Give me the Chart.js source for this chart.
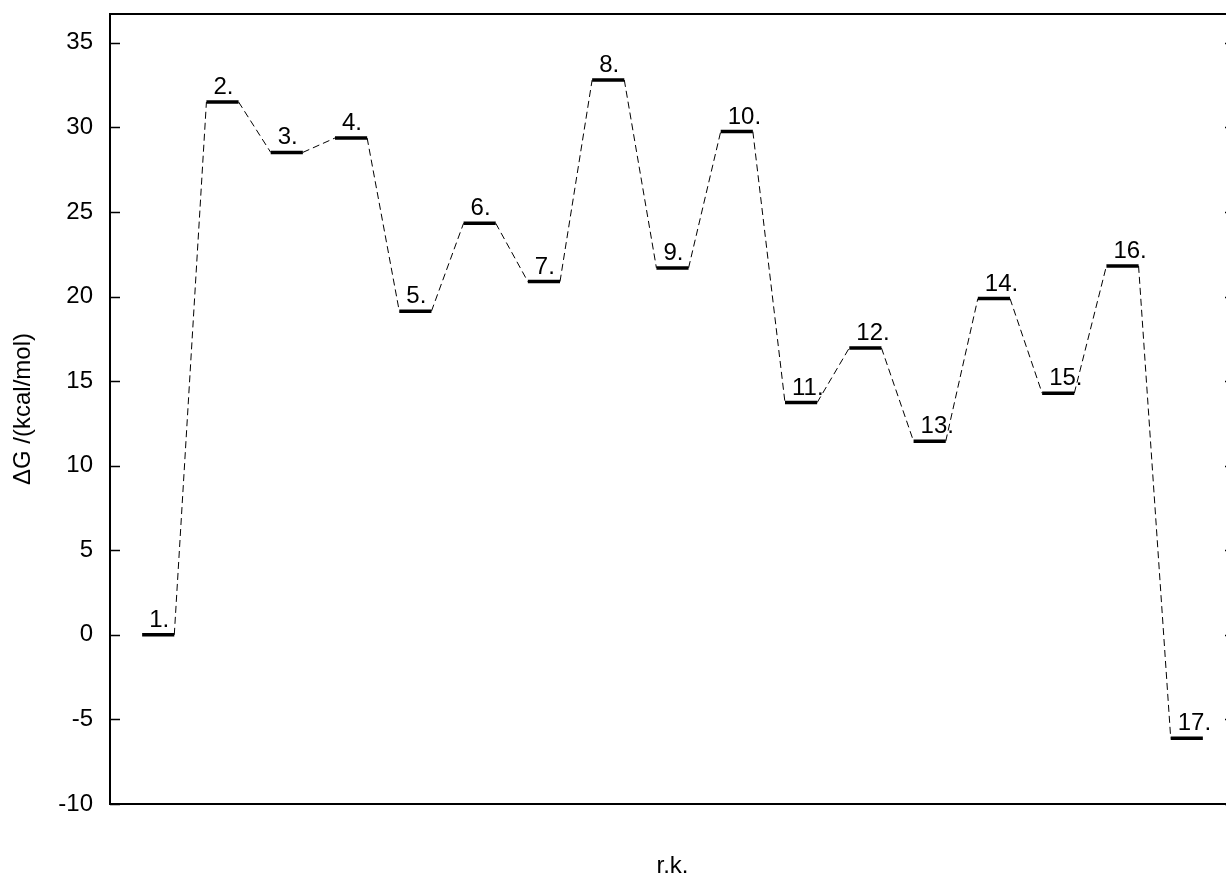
<!DOCTYPE html>
<html><head><meta charset="utf-8">
<script src="https://cdn.jsdelivr.net/npm/chart.js@4/dist/chart.umd.min.js"></script>
<style>html,body{margin:0;padding:0;background:#fff;overflow:hidden;width:1226px;height:878px}#wrap{width:1240px;height:878px}</style>
</head><body><div id="wrap"><canvas id="c" width="1240" height="878"></canvas></div>
<script>
const stateLabels = ['1.','2.','3.','4.','5.','6.','7.','8.','9.','10.','11.','12.','13.','14.','15.','16.','17.'];
const energies = [0, 31.5, 28.52, 29.37, 19.13, 24.33, 20.88, 32.8, 21.69, 29.75, 13.73, 16.96, 11.44, 19.88, 14.28, 21.81, -6.11];
const yTicks = [-10, -5, 0, 5, 10, 15, 20, 25, 30, 35];
const yTitle = 'ΔG /(kcal/mol)';
const xTitle = 'r.k.';
const FONT = '"Liberation Sans", Arial, sans-serif';
const FS = 24;

// each state i occupies x in [i-0.5, i]
const levelData = [];
energies.forEach((v, k) => { const i = k + 1; levelData.push({x: i - 0.5, y: v}, {x: i, y: v}, {x: i + 0.25, y: null}); });
const linkData = [];
for (let k = 0; k < energies.length - 1; k++) {
  const i = k + 1;
  linkData.push({x: i, y: energies[k]}, {x: i + 0.5, y: energies[k + 1]}, {x: i + 0.75, y: null});
}

const decor = {
  id: 'decor',
  afterDatasetsDraw(chart) {
    const {ctx, chartArea: a, scales: {x, y}} = chart;
    ctx.save();
    ctx.strokeStyle = '#000'; ctx.lineWidth = 2;
    ctx.strokeRect(a.left, a.top, a.right - a.left, a.bottom - a.top);
    ctx.lineWidth = 1.5;
    yTicks.forEach(v => {
      const py = Math.round(y.getPixelForValue(v)) + 0.5;
      ctx.beginPath();
      ctx.moveTo(a.left, py); ctx.lineTo(a.left + 10, py);
      ctx.moveTo(a.right, py); ctx.lineTo(a.right - 10, py);
      ctx.stroke();
    });
    ctx.fillStyle = '#000';
    ctx.font = FS + 'px ' + FONT;
    ctx.textAlign = 'left'; ctx.textBaseline = 'alphabetic';
    energies.forEach((v, k) => {
      const i = k + 1;
      const px = x.getPixelForValue(i - 0.5) + 7;
      const py = y.getPixelForValue(v) - 8;
      ctx.fillText(stateLabels[k], px, py);
    });
    ctx.textAlign = 'center'; ctx.textBaseline = 'middle';
    ctx.fillText(xTitle, (a.left + a.right) / 2, 866);
    ctx.restore();
  }
};

new Chart(document.getElementById('c'), {
  type: 'line',
  data: {
    datasets: [
      {data: linkData, borderColor: '#000', borderWidth: 1, borderDash: [7, 4], pointRadius: 0, spanGaps: false, fill: false},
      {data: levelData, borderColor: '#000', borderWidth: 3.5, pointRadius: 0, spanGaps: false, fill: false, borderCapStyle: 'butt'}
    ]
  },
  options: {
    responsive: false, animation: false, devicePixelRatio: 1,
    layout: {padding: {top: 14, right: 5, bottom: 74, left: 0}},
    plugins: {legend: {display: false}, tooltip: {enabled: false}},
    scales: {
      x: {type: 'linear', min: 0, max: 17.5, display: false},
      y: {
        type: 'linear', min: -10, max: 36.7,
        afterBuildTicks: s => { s.ticks = yTicks.map(v => ({value: v})); },
        afterFit: s => { s.width = 110; s.paddingTop = 0; s.paddingBottom = 0; },
        grid: {display: false, drawTicks: false},
        border: {display: false},
        ticks: {color: '#000', font: {family: FONT, size: FS}, padding: 17},
        title: {display: true, text: yTitle, color: '#000', font: {family: FONT, size: FS}, padding: {top: 9, bottom: 0}}
      }
    }
  },
  plugins: [decor]
});
</script>
</body></html>
